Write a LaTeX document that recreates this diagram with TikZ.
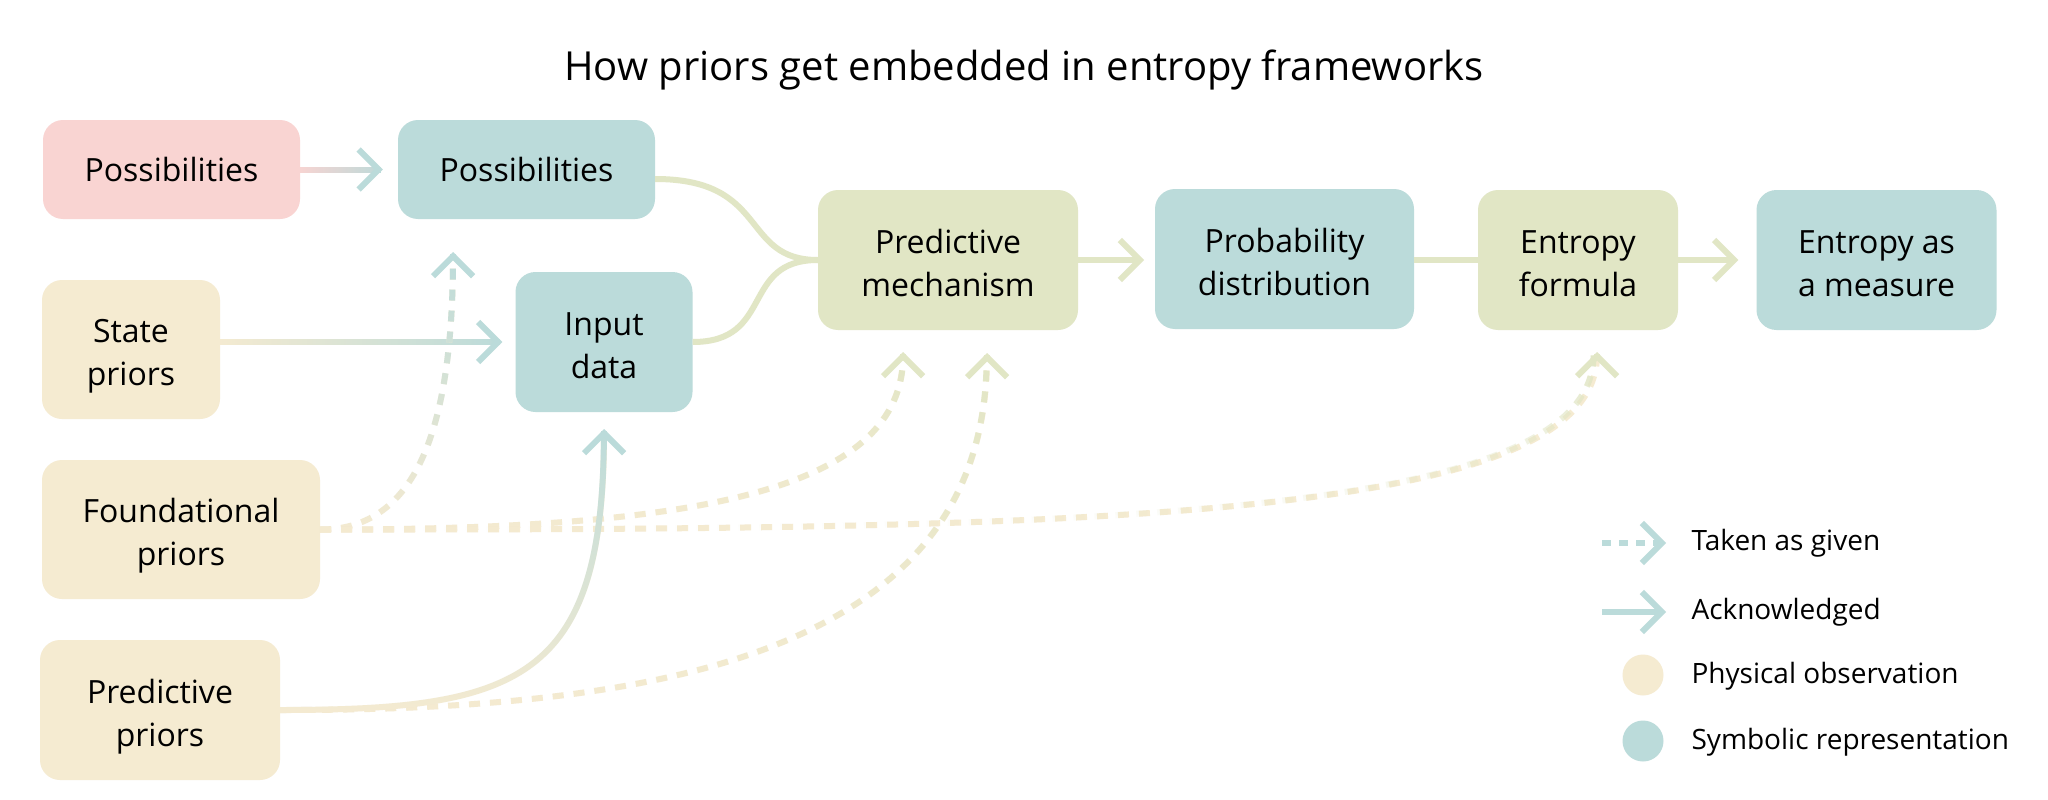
\documentclass[tikz,border=0pt]{standalone}
\usepackage{fontspec}
\setmainfont{Open Sans}
\usetikzlibrary{arrows.meta,fadings}
\definecolor{cpink}{HTML}{F9D4D2}
\definecolor{cteal}{HTML}{BBDBDA}
\definecolor{cbeige}{HTML}{F5EBD1}
\definecolor{cgreen}{HTML}{E1E6C5}
\tikzfading[name=fadeLR, left color=transparent!100, right color=transparent!0]
\tikzfading[name=fadeBT, bottom color=transparent!100, top color=transparent!0]
\begin{document}
\begin{tikzpicture}[x=1pt,y=-1pt,
  box/.style={rounded corners=20pt, inner sep=0pt, align=center,
    font=\fontsize{32}{43}\selectfont, text=black},
  two/.style={text height=72pt, text depth=0pt},
  conn/.style={line width=6pt},
  arrowhd/.style={-{Straight Barb[length=20pt,width=40pt]}},
  dsh/.style={dash pattern=on 11pt off 10pt},
  short/.style={shorten >=3pt},
  lgtext/.style={anchor=west, font=\fontsize{28}{34}\selectfont, text=black},
]
\useasboundingbox[fill=white] (0,0) rectangle (2048,800);

% title
\node[font=\fontsize{40}{48}\selectfont] (title) at (1024,70) {How priors get embedded in entropy frameworks};

% boxes
\node[box, fill=cpink, minimum width=257pt, minimum height=99pt] (pinkP) at (171.5,169.5) {Possibilities};
\node[box, fill=cteal, minimum width=257pt, minimum height=99pt] (tealP) at (526.5,169.5) {Possibilities};
\node[box, two, fill=cbeige, minimum width=178pt, minimum height=139pt] (state) at (131,349.5) {State\\priors};
\node[box, two, fill=cteal, minimum width=177pt, minimum height=140pt] (input) at (604,342) {Input\\data};
\node[box, two, fill=cbeige, minimum width=278pt, minimum height=139pt] (found) at (181,529.5) {Foundational\\priors};
\node[box, two, fill=cbeige, minimum width=240pt, minimum height=140pt] (pred) at (160,710) {Predictive\\priors};
\node[box, two, fill=cgreen, minimum width=260pt, minimum height=140pt] (mech) at (948,260) {Predictive\\mechanism};
\node[box, two, fill=cteal, minimum width=259pt, minimum height=140pt] (prob) at (1284.5,259) {Probability\\distribution};
\node[box, two, fill=cgreen, minimum width=200pt, minimum height=140pt] (formula) at (1578,260) {Entropy\\formula};
\node[box, two, fill=cteal, minimum width=240pt, minimum height=140pt] (measure) at (1876.5,260) {Entropy as\\a measure};

% tip coordinates
\coordinate (tA) at ([xshift=-15pt]tealP.west);
\coordinate (tB) at ([xshift=-13pt]input.west);
\coordinate (tE) at (1144,260);
\coordinate (tG) at ([xshift=-18pt]measure.west);
\coordinate (tH) at (453,252);
\coordinate (tI) at (903,352);
\coordinate (tJ) at (1597,352);
\coordinate (tK) at (987,353);
\coordinate (tL) at (604,429);
\coordinate (sC) at ([yshift=-9.5pt]tealP.east);

% pink -> teal possibilities
\draw[conn, cpink, short] (pinkP.east) -- (tA);
\draw[conn, cteal, short, path fading=fadeLR] (pinkP.east) -- (tA);
\draw[conn, cteal, arrowhd] ([xshift=-2pt]tA) -- (tA);
% state -> input
\draw[conn, cbeige, short] (state.east |- input.west) -- (tB);
\draw[conn, cteal, short, path fading=fadeLR] (state.east |- input.west) -- (tB);
\draw[conn, cteal, arrowhd] ([xshift=-2pt]tB) -- (tB);
% into mechanism
\draw[conn, cgreen] (sC) .. controls (770,179) and (740,260) .. (mech.west);
\draw[conn, cgreen] (input.east) .. controls (775,342) and (740,260) .. (mech.west);
% main row
\draw[conn, cgreen, arrowhd] (mech.east) -- (tE);
\draw[conn, cgreen] (prob.east |- formula.west) -- (formula.west);
\draw[conn, cgreen, arrowhd] (formula.east) -- (tG);

% dashed: foundational
\draw[conn, cbeige, dsh, short] (found.east) .. controls (420,530) and (453,420) .. (tH);
\draw[conn, cteal, dsh, short, path fading=fadeBT] (found.east) .. controls (420,530) and (453,420) .. (tH);
\draw[conn, cteal, arrowhd] ([yshift=-2pt]tH) -- (tH);
\draw[conn, cbeige, dsh, short] (found.east) .. controls (700,530) and (903,490) .. (tI);
\draw[conn, cgreen, dsh, short, path fading=fadeBT] (found.east) .. controls (700,530) and (903,490) .. (tI);
\draw[conn, cgreen, arrowhd] ([yshift=-2pt]tI) -- (tI);
\draw[conn, cbeige, dsh, short] (found.east) .. controls (1100,530) and (1597,520) .. (tJ);
\draw[conn, cgreen, dsh, short, path fading=fadeBT] (found.east) .. controls (1100,530) and (1597,520) .. (tJ);
\draw[conn, cgreen, arrowhd] ([yshift=-2pt]tJ) -- (tJ);
% predictive priors
\draw[conn, cbeige, dsh, short] (pred.east) .. controls (680,711) and (987,645) .. (tK);
\draw[conn, cgreen, dsh, short, path fading=fadeBT] (pred.east) .. controls (680,711) and (987,645) .. (tK);
\draw[conn, cgreen, arrowhd] ([yshift=-2pt]tK) -- (tK);
\draw[conn, cbeige, short] (pred.east) .. controls (520,710) and (604,680) .. (tL);
\draw[conn, cteal, short, path fading=fadeBT] (pred.east) .. controls (520,710) and (604,680) .. (tL);
\draw[conn, cteal, arrowhd] ([yshift=-2pt]tL) -- (tL);

% legend
\coordinate (l1a) at (1602,543);
\coordinate (l1b) at (1666,543);
\coordinate (l2a) at (1602,612);
\coordinate (l2b) at (1666,612);
\draw[conn, cteal, dash pattern=on 9pt off 8pt, arrowhd] (l1a) -- (l1b);
\draw[conn, cteal, arrowhd] (l2a) -- (l2b);
\node[circle, fill=cbeige, minimum size=41pt, inner sep=0pt] (lc1) at (1643,675) {};
\node[circle, fill=cteal, minimum size=41pt, inner sep=0pt] (lc2) at (1643,741) {};
\node[lgtext] (lt1) at (1688,543) {Taken as given};
\node[lgtext] (lt2) at (1688,612) {Acknowledged};
\node[lgtext] (lt3) at (1688,676) {Physical observation};
\node[lgtext] (lt4) at (1688,742) {Symbolic representation};
\end{tikzpicture}
\end{document}
